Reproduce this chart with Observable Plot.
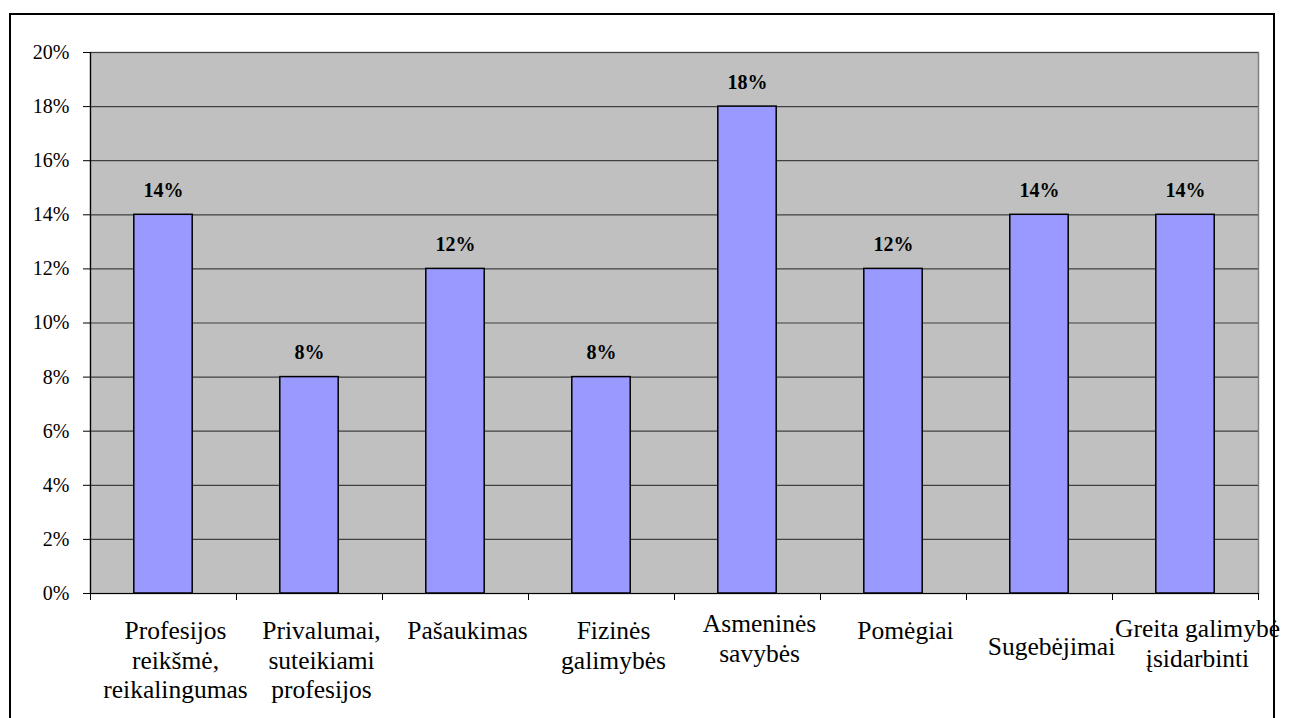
<!DOCTYPE html>
<html>
<head>
<meta charset="utf-8">
<script src="https://cdn.jsdelivr.net/npm/d3@7"></script>
<script src="https://cdn.jsdelivr.net/npm/@observablehq/plot@0.6"></script>
<style>
  html, body { margin: 0; padding: 0; background: #fff; overflow: hidden; }
  #wrap { position: relative; width: 1291px; height: 718px; }
  #border { position: absolute; left: 9px; top: 13px; width: 1262px; height: 760px;
            border: 2px solid #000; box-sizing: content-box; pointer-events: none; }
  svg { display: block; }
  svg, svg text { font-family: "Liberation Serif", "Times New Roman", "DejaVu Serif", serif !important; }
</style>
</head>
<body>
<div id="wrap"><div id="chart"></div><div id="border"></div></div>
<script>
// ---- data ----
const categories = [
  "Profesijos\nreikšmė,\nreikalingumas",
  "Privalumai,\nsuteikiami\nprofesijos",
  "Pašaukimas",
  "Fizinės\ngalimybės",
  "Asmeninės\nsavybės",
  "Pomėgiai",
  "Sugebėjimai",
  "Greita galimybė\nįsidarbinti"
];
const values = [14, 8, 12, 8, 18, 12, 14, 14];
const yTicks = [0, 2, 4, 6, 8, 10, 12, 14, 16, 18, 20];

// ---- layout (label nudges, styling only) ----
const labelNudge = [0, 0, 0, 0, -7, 0, 16, -2];

const rows = categories.map((c, i) => ({i, label: c, value: values[i], nudge: labelNudge[i]}));
const gap = 0.3; // Excel gap width 150%

const serif = "Liberation Serif";

const plot = Plot.plot({
  width: 1291,
  height: 718,
  marginLeft: 90,
  marginRight: 33,
  marginTop: 52,
  marginBottom: 125,
  style: {background: "transparent", overflow: "visible"},
  x: {domain: [0, categories.length], axis: null},
  y: {domain: [0, 20], axis: null},
  marks: [
    Plot.frame({fill: "#C0C0C0", stroke: "#808080", strokeWidth: 1.5}),
    Plot.gridY(yTicks, {stroke: "#404040", strokeOpacity: 1, strokeWidth: 1.2}),
    Plot.rectY(rows, {x1: d => d.i + gap, x2: d => d.i + 1 - gap, y1: 0, y2: "value",
      fill: "#9999FF", stroke: "#000", strokeWidth: 1.5}),
    Plot.ruleX([0], {stroke: "#000", strokeWidth: 1.2}),
    Plot.ruleY([0], {stroke: "#000", strokeWidth: 1.2}),
    Plot.axisY({ticks: yTicks, tickSize: 7, tickPadding: 14, tickFormat: d => d + "%",
      fontSize: 20, fontFamily: serif, fill: "#000", stroke: "#000", label: null}),
    Plot.axisX({ticks: d3.range(0, categories.length + 1), tickSize: 7, tickFormat: () => "",
      stroke: "#000", label: null}),
    Plot.text(rows, {x: d => d.i + 0.5, y: "value", text: d => d.value + "%",
      lineAnchor: "bottom", dy: -18, fontWeight: "bold", fontSize: 20, fontFamily: serif, fill: "#000"}),
    Plot.text(rows, {x: d => d.i + 0.5, y: 0, text: "label", lineAnchor: "top",
      dx: 12, fontSize: 25.5, lineHeight: 1.15, fontFamily: serif, fill: "#000",
      render: (index, scales, channels, dims, context, next) => {
        const g = next(index, scales, channels, dims, context);
        d3.select(g).selectAll("text").each(function(_, k) {
          const d = rows[index[k]];
          const t = d3.select(this);
          const cur = t.attr("transform") || "";
          t.attr("transform", cur + ` translate(0,${25 + d.nudge})`);
        });
        return g;
      }})
  ]
});
document.getElementById("chart").appendChild(plot);
</script>
</body>
</html>
